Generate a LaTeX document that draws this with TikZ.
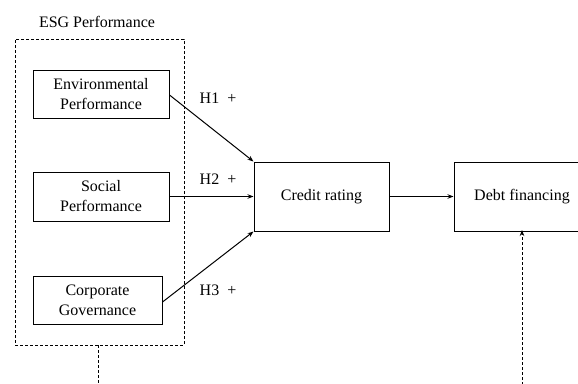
\documentclass[tikz,border=0pt]{standalone}
\usepackage{fontspec}
\setmainfont{Liberation Serif}
\usetikzlibrary{arrows.meta}
\begin{document}
\begin{tikzpicture}[x=1pt,y=-1pt,
  font=\fontsize{16}{20}\selectfont,
  box/.style={draw,line width=1pt,align=center,inner sep=0pt},
  dsh/.style={draw,line width=0.9pt,dash pattern=on 3pt off 2pt},
  arr/.style={line width=1pt,-{Stealth[length=6pt,width=4.5pt]}},
  lbl/.style={inner sep=0pt}]
\clip (0,0) rectangle (578,383);
\useasboundingbox (0,0) rectangle (578,383);
\node[lbl] (esgl) at (97,22) {ESG Performance};
\node[dsh,minimum width=169pt,minimum height=306pt,inner sep=0pt] (esg) at (99.5,192) {};
\node[box,minimum width=136pt,minimum height=48pt] (env) at (101,94) {Environmental\\Performance};
\node[box,minimum width=136pt,minimum height=49pt] (soc) at (101,196.5) {Social\\Performance};
\node[box,minimum width=129pt,minimum height=48pt] (cor) at (97.5,300) {Corporate\\Governance};
\node[box,minimum width=135pt,minimum height=69pt] (cr) at (321.5,196.5) {Credit rating};
\node[box,minimum width=136pt,minimum height=69pt] (df) at (522,196.5) {Debt financing};
\node[lbl] (h1) at (218,98) {H1\enspace+};
\node[lbl] (h2) at (218,179) {H2\enspace+};
\node[lbl] (h3) at (218,290) {H3\enspace+};
\coordinate (b1) at (98,390);
\coordinate (b2) at (522,390);
\draw[arr] ([yshift=-1pt]env.east) -- (cr.north west);
\draw[arr] (soc.east) -- (cr.west);
\draw[arr] ([yshift=-2pt]cor.east) -- (cr.south west);
\draw[arr] (cr.east) -- (df.west);
\draw[line width=0.9pt,dash pattern=on 3pt off 2pt] (esg.south -| b1) -- (b1);
\draw[line width=0.9pt,dash pattern=on 3pt off 2pt,-{Stealth[length=6pt,width=4.5pt]}] (b2) -- ([yshift=1.5pt]df.south);
\end{tikzpicture}
\end{document}
